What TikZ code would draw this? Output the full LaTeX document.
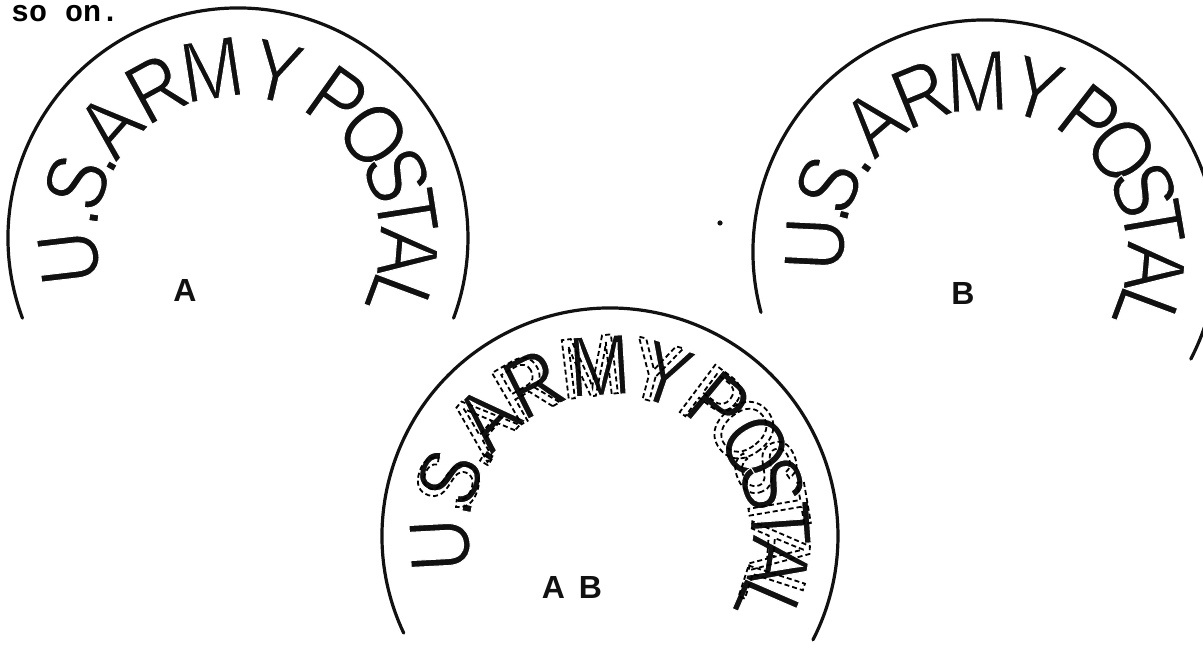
\documentclass[tikz,border=0pt]{standalone}
\usepackage{fontspec}
\usepackage{tikz}
\usetikzlibrary{positioning}
\newfontfamily\stampfont{Liberation Sans}[FakeStretch=0.86]
\newfontfamily\signfont{Liberation Sans}
\newfontfamily\typefont{Liberation Mono}
\definecolor{ink}{HTML}{111111}
% thin the struck letters / give the second strike a broken outline
\newcommand\struck{\special{pdf:literal direct 2 Tr 1.0 w 1 G}}
\newcommand\broken{\special{pdf:literal direct 1 Tr 1.8 w 0 G [5 3] 0 d}}
\begin{document}
\begin{tikzpicture}[x=1pt,y=1pt,
  rim/.style={ink,line width=3.2pt,line cap=round},
  letter/.style={anchor=base,inner sep=0pt,text=ink,font=\stampfont\fontsize{86}{86}\selectfont},
  insign/.style={inner sep=0pt,text=ink,font=\signfont\bfseries\fontsize{32}{32}\selectfont}]
\useasboundingbox (0,0) rectangle (1203,645);
\node[anchor=base west,inner sep=0pt,text height=15pt,font=\typefont\bfseries\fontsize{30}{30}\selectfont] (sotext) at (11,623) {so on.};
% --- stamp A
\begin{scope}[shift={(238,407)}]
\draw[rim] (200.4:230) arc[start angle=200.4,end angle=-20.4,radius=230];
\foreach \ch/\a [count=\i] in {U/186.7,./172,S/161,./150.4,A/138.6,R/118.7,M/98.8,Y/76.9,P/54.5,O/37.3,S/21.7,T/8.9,A/-4.8,L/-20.4}
  {\node[letter,rotate=\a-90] (a\i) at (\a:141) {\struck\ch};}
\node[insign] (amark) at (-53,-52) {A};
\end{scope}
% --- stamp B
\begin{scope}[shift={(985,393)}]
\draw[rim] (195.1:232) arc[start angle=195.1,end angle=-27.5,radius=232];
\foreach \ch/\a [count=\i] in {U/177.3,./165.2,S/156.7,./144.6,A/130.6,R/112.1,M/92.7,Y/72.4,P/52.2,O/36.7,S/21.5,T/9.8,A/-5.1,L/-20.4}
  {\node[letter,rotate=\a-90] (b\i) at (\a:141) {\struck\ch};}
\node[insign] (bmark) at (-22,-41) {B};
\end{scope}
% stray dot
\fill[ink] (720,422) circle (2.6);
% --- stamp AB: B solid, A dashed over it
\begin{scope}[shift={(610,109)}]
\draw[rim] (205.2:228) arc[start angle=205.2,end angle=-27.1,radius=228];
\foreach \ch/\a [count=\i] in {U/183,./169,S/159.8,./146.5,A/136,R/116.6,M/93.5,Y/71.1,P/50.4,O/31.6,S/18,T/4,A/-9,L/-23.4}
  {\node[letter,rotate=\a-90] (ab\i) at (\a:141) {\struck\ch};}
\foreach \ch/\a [count=\i] in {S/161.5,./148.5,A/139,R/120,M/96.8,Y/75.2,P/53.1,O/38.3,S/24,T/9.7,A/-4,L/-17.9}
  {\node[letter,rotate=\a-90] (ga\i) at (\a:141) {\broken\ch};}
\node[insign] (abmark) at (-38,-51) {A\hspace{14pt}B};
\end{scope}
\end{tikzpicture}
\end{document}
